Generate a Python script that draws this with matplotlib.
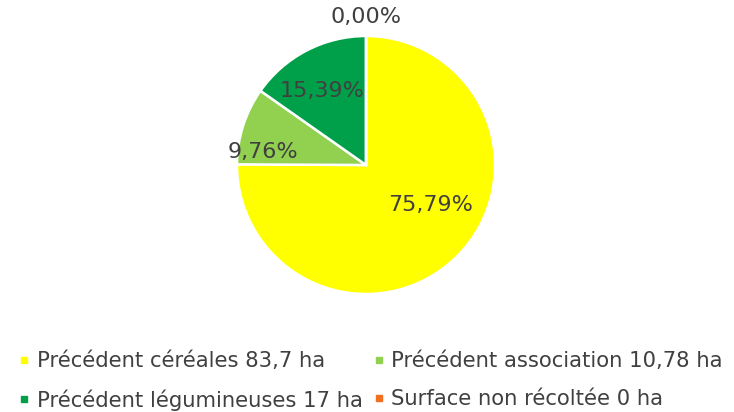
import matplotlib
matplotlib.use("Agg")
import matplotlib.pyplot as plt
from matplotlib.lines import Line2D

categories = ["Précédent céréales 83,7 ha", "Précédent association 10,78 ha",
              "Précédent légumineuses 17 ha", "Surface non récoltée 0 ha"]
surfaces = [83.7, 10.78, 17, 0]
pct_labels = ["75,79%", "9,76%", "15,39%", "0,00%"]
colors = ["#FFFF00", "#92D050", "#00A04A", "#F07020"]

text_color = "#404040"
fs_lab = 16
fs_leg = 15.2

fig = plt.figure(figsize=(7.34, 4.12), dpi=100)
ax = fig.add_axes([(366 - 129) / 734, (412 - 165 - 129) / 412, 258 / 734, 258 / 412])

wedges, _ = ax.pie(surfaces, colors=colors, startangle=90, counterclock=False,
                   wedgeprops=dict(edgecolor="white", linewidth=1.8))
ax.set_xlim(-1, 1)
ax.set_ylim(-1, 1)
ax.set_aspect("equal")
ax.axis("off")

label_pos = [(0.50, -0.31), (-0.80, 0.10), (-0.34, 0.57), (0.0, 1.15)]
for (x, y), t in zip(label_pos, pct_labels):
    ax.text(x, y, t, ha="center", va="center", fontsize=fs_lab, color=text_color,
            clip_on=False)

handles = [Line2D([], [], marker="s", linestyle="none", markersize=4.6,
                  markerfacecolor=c, markeredgecolor=c) for c in colors]
order = [0, 2, 1, 3]
leg = fig.legend([handles[i] for i in order], [categories[i] for i in order],
                 loc="upper left", bbox_to_anchor=(19 / 734, 1 - 351 / 412),
                 ncol=2, frameon=False, fontsize=fs_leg, labelcolor=text_color,
                 handlelength=0.5, handletextpad=0.35, columnspacing=0.5,
                 labelspacing=0.87, borderpad=0, borderaxespad=0)

fig.savefig("out.png", dpi=100)
